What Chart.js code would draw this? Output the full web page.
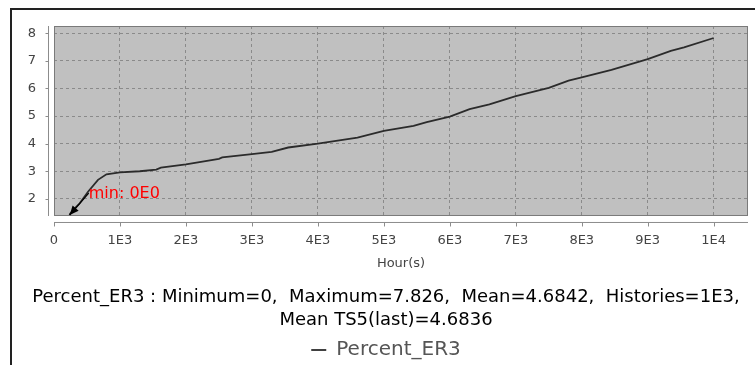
<!DOCTYPE html>
<html>
<head>
<meta charset="utf-8">
<script src="https://cdn.jsdelivr.net/npm/chart.js@4.4.1/dist/chart.umd.min.js"></script>
<style>
  html, body { margin: 0; padding: 0; background: #ffffff; }
  #wrap { position: relative; width: 755px; height: 365px; overflow: hidden; }
  canvas { display: block; }
</style>
</head>
<body>
<div id="wrap"><canvas id="c" width="755" height="365"></canvas></div>
<script>
// ---- data ----
const hours = [200, 240, 300, 390, 516, 667, 795, 1000, 1300, 1550, 1620, 2000, 2500, 2550, 3000, 3300, 3550, 4000, 4600, 5000, 5450, 5650, 6000, 6300, 6600, 7000, 7500, 7800, 8000, 8450, 9000, 9350, 9550, 10000];
const percentER3 = [0, 1.45, 1.62, 1.84, 2.26, 2.69, 2.89, 2.96, 3.00, 3.06, 3.13, 3.25, 3.45, 3.50, 3.62, 3.70, 3.86, 4.00, 4.22, 4.46, 4.64, 4.78, 4.98, 5.25, 5.42, 5.72, 6.02, 6.28, 6.40, 6.67, 7.06, 7.36, 7.49, 7.826];
const xTickValues = [0, 1000, 2000, 3000, 4000, 5000, 6000, 7000, 8000, 9000, 10000];
const xTickLabels = ['0', '1E3', '2E3', '3E3', '4E3', '5E3', '6E3', '7E3', '8E3', '9E3', '1E4'];
const yTickLabels = ['2', '3', '4', '5', '6', '7', '8'];
const seriesName = 'Percent_ER3';
const xTitle = 'Hour(s)';
const statsLines = ['Percent_ER3 : Minimum=0,  Maximum=7.826,  Mean=4.6842,  Histories=1E3,', 'Mean TS5(last)=4.6836'];
const minLabel = 'min: 0E0';

const FONT = "'DejaVu Sans', sans-serif";

const decorPlugin = {
  id: 'decor',
  beforeDraw(chart) {
    const { ctx, chartArea: a } = chart;
    ctx.save();
    ctx.fillStyle = '#ffffff';
    ctx.fillRect(0, 0, chart.width, chart.height);
    ctx.fillStyle = '#c0c0c0';
    ctx.fillRect(a.left, a.top, a.right - a.left, a.bottom - a.top);
    ctx.restore();
  },
  afterDraw(chart) {
    const { ctx, chartArea: a } = chart;
    const xs = chart.scales.x, ys = chart.scales.y;
    ctx.save();
    // outer frame (left + top)
    ctx.strokeStyle = '#222222';
    ctx.lineWidth = 2;
    ctx.beginPath();
    ctx.moveTo(11, chart.height);
    ctx.lineTo(11, 9);
    ctx.lineTo(chart.width, 9);
    ctx.stroke();
    // plot border
    ctx.strokeStyle = '#7a7a7a';
    ctx.lineWidth = 1;
    ctx.strokeRect(a.left + 0.5, a.top + 0.5, a.right - a.left - 1, a.bottom - a.top - 1);
    // offset axis lines
    ctx.strokeStyle = '#8c8c8c';
    ctx.beginPath();
    const yAxisX = a.left - 6 + 0.5;
    ctx.moveTo(yAxisX, a.top);
    ctx.lineTo(yAxisX, a.bottom);
    ys.ticks.forEach(t => {
      const py = Math.round(ys.getPixelForValue(t.value)) + 0.5;
      ctx.moveTo(yAxisX - 3, py);
      ctx.lineTo(yAxisX, py);
    });
    const xAxisY = a.bottom + 6 + 0.5;
    ctx.moveTo(a.left, xAxisY);
    ctx.lineTo(a.right, xAxisY);
    xs.ticks.forEach(t => {
      const px = Math.round(xs.getPixelForValue(t.value)) + 0.5;
      ctx.moveTo(px, xAxisY);
      ctx.lineTo(px, xAxisY + 4);
    });
    ctx.stroke();
    // min pointer annotation: tip where the series enters the plot
    const yMin = ys.min;
    const hc = hours[0] + (hours[1] - hours[0]) * (yMin - percentER3[0]) / (percentER3[1] - percentER3[0]);
    const tipX = xs.getPixelForValue(hc);
    const tipY = a.bottom - 1;
    const ang = -49 * Math.PI / 180;
    const len = 29;
    const bx = tipX + Math.cos(ang) * len;
    const by = tipY + Math.sin(ang) * len;
    ctx.strokeStyle = '#000000';
    ctx.fillStyle = '#000000';
    ctx.lineWidth = 1.2;
    ctx.beginPath();
    ctx.moveTo(bx, by);
    ctx.lineTo(tipX, tipY);
    ctx.stroke();
    const ux = Math.cos(ang), uy = Math.sin(ang);
    const hl = 9, hw = 4;
    ctx.beginPath();
    ctx.moveTo(tipX, tipY);
    ctx.lineTo(tipX + ux * hl - uy * hw, tipY + uy * hl + ux * hw);
    ctx.lineTo(tipX + ux * hl + uy * hw, tipY + uy * hl - ux * hw);
    ctx.closePath();
    ctx.fill();
    ctx.fillStyle = '#ff0000';
    ctx.font = '16px ' + FONT;
    ctx.textAlign = 'left';
    ctx.textBaseline = 'middle';
    ctx.fillText(minLabel, bx, by + 1);
    ctx.restore();
  }
};

new Chart(document.getElementById('c'), {
  type: 'line',
  data: {
    datasets: [{
      label: seriesName,
      data: hours.map((h, i) => ({ x: h, y: percentER3[i] })),
      borderColor: '#2b2b2b',
      backgroundColor: '#2b2b2b',
      borderWidth: 1.8,
      pointRadius: 0,
      tension: 0,
      fill: false
    }]
  },
  options: {
    responsive: false,
    animation: false,
    devicePixelRatio: 1,
    layout: { padding: { left: 24, right: 7, top: 26, bottom: -5 } },
    scales: {
      x: {
        type: 'linear',
        min: 0,
        max: 10520,
        afterBuildTicks(scale) { scale.ticks = xTickValues.map(v => ({ value: v })); },
        afterFit(scale) { scale.height = 55; },
        ticks: {
          callback(v) { const i = xTickValues.indexOf(v); return i >= 0 ? xTickLabels[i] : ''; },
          color: '#444444',
          font: { family: FONT, size: 13 },
          padding: 17,
          maxRotation: 0,
          autoSkip: false
        },
        grid: { color: '#8a8a8a', lineWidth: 1, drawTicks: false },
        border: { display: false, dash: [3, 3] },
        title: { display: true, text: xTitle, color: '#444444', font: { family: FONT, size: 13 }, padding: { top: 4, bottom: 0 } }
      },
      y: {
        type: 'linear',
        min: 1.38,
        max: 8.26,
        afterBuildTicks(scale) { scale.ticks = yTickLabels.map(v => ({ value: Number(v) })); },
        afterFit(scale) { scale.width = 30; },
        ticks: {
          callback(v) { const s = String(v); return yTickLabels.includes(s) ? s : ''; },
          color: '#444444',
          font: { family: FONT, size: 13 },
          padding: 18
        },
        grid: { color: '#8a8a8a', lineWidth: 1, drawTicks: false },
        border: { display: false, dash: [3, 3] }
      }
    },
    plugins: {
      title: {
        display: true,
        position: 'bottom',
        text: statsLines,
        color: '#000000',
        font: { family: FONT, size: 18, weight: 'normal', lineHeight: 1.278 },
        padding: { top: 14.5, bottom: 8.5 },
        weight: 100
      },
      legend: {
        display: true,
        position: 'bottom',
        weight: 500,
        labels: {
          usePointStyle: true,
          pointStyle: 'line',
          pointStyleWidth: 15,
          color: '#555555',
          font: { family: FONT, size: 20 },
          padding: 0
        }
      },
      tooltip: { enabled: false }
    }
  },
  plugins: [decorPlugin]
});
</script>
</body>
</html>
